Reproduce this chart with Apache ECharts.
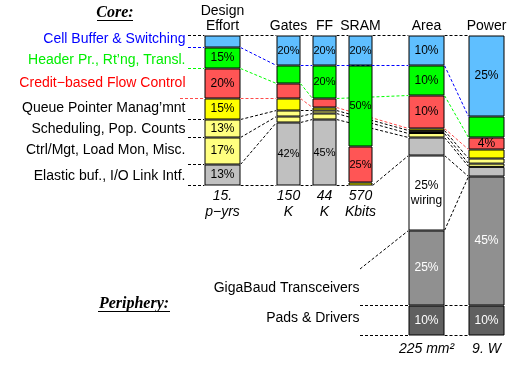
<!DOCTYPE html>
<html><head><meta charset="utf-8">
<script src="https://cdn.jsdelivr.net/npm/echarts@6.0.0/dist/echarts.min.js"></script>
<style>html,body{margin:0;padding:0;background:#fff}#c{width:519px;height:368px}</style>
</head><body><div id="c"></div>
<script>
// ---- data ----
const columns = ['Design\nEffort', 'Gates', 'FF', 'SRAM', 'Area', 'Power'];
const totals = ['15.\np\u2212yrs', '150\nK', '44\nK', '570\nKbits', '225 mm\u00b2', '9. W'];
const coreNames = ['Cell Buffer & Switching', 'Header Pr., Rt\u2019ng, Transl.', 'Credit\u2212based Flow Control',
  'Queue Pointer Manag\u2019mnt', 'Scheduling, Pop. Counts', 'Ctrl/Mgt, Load Mon, Misc.', 'Elastic buf., I/O Link Intf.'];
const peripheryNames = ['GigaBaud Transceivers', 'Pads & Drivers'];
// segment shares (% of column), top to bottom
const designEffort = [8, 14, 20, 14, 12, 18, 14];
const gates = [20, 12, 10, 8, 4, 4, 42];
const ff = [20, 22, 6, 2, 2, 4, 44];
const sram = [20, 54, 24, 2, 0, 0, 0];
const area = [10, 10, 11, 0.8, 0.7, 1.5, 6, 25, 25, 10];   // + wiring, GigaBaud, pads
const power = [27, 7, 4, 3, 1.7, 1.1, 3.2, 0, 43, 10];
// printed labels
const designEffortLabels = ['', '15%', '20%', '15%', '13%', '17%', '13%'];
const gatesLabels = ['20%', '', '', '', '', '', '42%'];
const ffLabels = ['20%', '20%', '', '', '', '', '45%'];
const sramLabels = ['20%', '50%', '25%', '', '', '', ''];
const areaLabels = ['10%', '10%', '10%', '', '', '', '', '25%\nwiring', '25%', '10%'];
const powerLabels = ['25%', '', '4%', '', '', '', '', '', '45%', '10%'];

// ---- styling / layout ----
const values = [designEffort, gates, ff, sram, area, power];
const labels = [designEffortLabels, gatesLabels, ffLabels, sramLabels, areaLabels, powerLabels];
const segColors = ['#5fbfff', '#00ff00', '#ff5555', '#ffff00', '#ffff80', '#ffff80', '#c0c0c0', '#ffffff', '#909090', '#606060'];
const segTextColors = ['#000', '#000', '#000', '#000', '#000', '#000', '#000', '#000', '#fff', '#fff'];
const colLeft = [204.5, 276.5, 312.5, 348.5, 408.5, 468.5];
const colWidth = [36, 24, 24, 24, 36, 36];
const colHeight = [150, 150, 150, 150, 300, 300];
const TOP = 35.5;
const FONT = '"Liberation Sans", Arial, sans-serif';
const boundaryColor = k => k === 1 ? '#0000ff' : k === 2 ? '#00ff00' : k === 3 ? '#ff4a4a' : '#000';

const chart = echarts.init(document.getElementById('c'));

const grids = [], xAxes = [], yAxes = [], series = [];
columns.forEach((name, c) => {
  grids.push({ left: colLeft[c], top: TOP, width: colWidth[c], height: colHeight[c] });
  xAxes.push({ type: 'category', gridIndex: c, position: 'top', data: [name],
    axisLine: { show: false }, axisTick: { show: false },
    axisLabel: { interval: 0, margin: 2, fontSize: 14, color: '#000', fontFamily: FONT, lineHeight: 15 } });
  xAxes.push({ type: 'category', gridIndex: c, position: 'bottom', data: [totals[c]],
    axisLine: { show: false }, axisTick: { show: false },
    axisLabel: { interval: 0, margin: c >= 4 ? 6 : 3, fontSize: 14, fontStyle: 'italic', color: '#000', fontFamily: FONT, lineHeight: 16 } });
  yAxes.push({ type: 'value', gridIndex: c, min: 0, max: 100, inverse: true, show: false });
  values[c].forEach((v, s) => {
    if (!v) return;
    const txt = labels[c][s];
    series.push({
      type: 'bar', xAxisIndex: 2 * c, yAxisIndex: c, stack: 'col' + c, barWidth: '100%',
      silent: true, data: [v],
      itemStyle: { color: segColors[s], borderColor: '#000', borderWidth: 1 },
      label: { show: !!txt, position: 'inside', formatter: txt, color: segTextColors[s],
        fontSize: colWidth[c] > 30 ? 12 : 11, fontFamily: FONT, lineHeight: 15, textBorderWidth: 0 }
    });
  });
});

chart.setOption({ animation: false, backgroundColor: '#fff', grid: grids, xAxis: xAxes, yAxis: yAxes, series: series });

// ---- connectors & annotations ----
function bound(c, k) {
  let s = 0;
  for (let i = 0; i < k; i++) s += values[c][i];
  const y = chart.convertToPixel({ yAxisIndex: c }, Math.min(s, 100));
  return Math.floor(y) + 0.5;
}
const g = [];
function dline(x1, y1, x2, y2, color) {
  g.push({ type: 'line', silent: true, z: 0,
    shape: { x1: x1, y1: y1, x2: x2, y2: y2 },
    style: { stroke: color, lineWidth: 1, lineDash: [3, 2] } });
}
function txt(x, y, text, opts) {
  g.push({ type: 'text', silent: true, x: x, y: y,
    style: Object.assign({ text: text, fill: '#000', font: '14px ' + FONT,
      align: 'right', verticalAlign: 'middle', textAlign: 'right', textVerticalAlign: 'middle' }, opts || {}) });
}
const right = c => colLeft[c] + colWidth[c];
// links between neighbouring columns: [from, to, boundaries]
const links = [[0, 1, [0, 1, 2, 3, 4, 5, 6, 7]], [1, 2, [0, 1, 2, 3, 4, 5, 6, 7]], [2, 3, [0, 7]],
  [2, 4, [1, 2, 3, 4, 5, 6]], [3, 4, [0, 7]], [4, 5, [0, 1, 2, 3, 4, 5, 6, 7, 8, 9, 10]]];
links.forEach(([a, b, ks]) => ks.forEach(k => dline(right(a), bound(a, k), colLeft[b], bound(b, k), boundaryColor(k))));
// core label stubs
for (let k = 0; k <= 7; k++) dline(k === 3 ? 180 : 188, bound(0, k), colLeft[0], bound(0, k), boundaryColor(k));
// periphery stubs
dline(360, 269, colLeft[4], bound(4, 8), '#000');
dline(360, bound(4, 9), colLeft[4], bound(4, 9), '#000');
dline(360, bound(4, 10), colLeft[4], bound(4, 10), '#000');

const coreY = [39, 60, 83, 108, 129, 150, 176];
const coreCol = ['#0000ff', '#00ee00', '#ff0000', '#000', '#000', '#000', '#000'];
coreNames.forEach((n, i) => txt(185.5, coreY[i], n, { fill: coreCol[i] }));
txt(359.5, 288, peripheryNames[0]);
txt(359.5, 318, peripheryNames[1]);

// section titles
txt(115, 13, 'Core:', { align: 'center', textAlign: 'center', font: 'italic bold 16px "Liberation Serif", serif' });
txt(134, 304, 'Periphery:', { align: 'center', textAlign: 'center', font: 'italic bold 16px "Liberation Serif", serif' });
g.push({ type: 'line', silent: true, shape: { x1: 97, y1: 20.5, x2: 133, y2: 20.5 }, style: { stroke: '#000', lineWidth: 1 } });
g.push({ type: 'line', silent: true, shape: { x1: 98, y1: 311.5, x2: 170, y2: 311.5 }, style: { stroke: '#000', lineWidth: 1 } });

chart.setOption({ graphic: g });
</script>
</body></html>
